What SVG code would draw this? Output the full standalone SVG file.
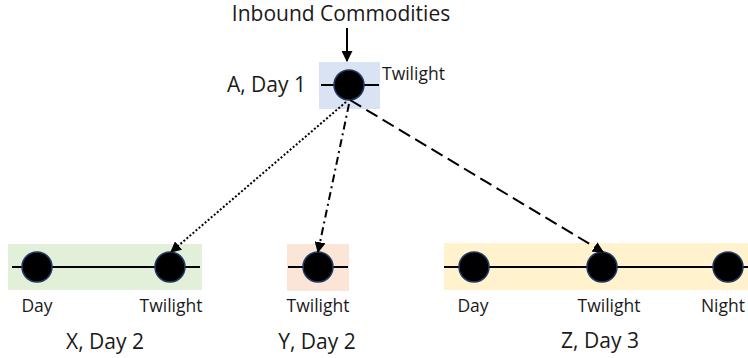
<svg xmlns="http://www.w3.org/2000/svg" width="748" height="358" viewBox="0 0 748 358">
<style>
text{font-family:"Open Sans","Noto Sans",sans-serif;fill:#1a1a1a}
.lbl{font-size:17.5px}
.big{font-size:21px}
.node{fill:#000;stroke:#1f3864;stroke-width:1.5}
.track{stroke:#000;stroke-width:2}
.conn{fill:none;stroke:#000;stroke-width:2}
</style>
<defs>
<marker id="ah" viewBox="0 0 10 10" refX="9" refY="5" markerWidth="5.5" markerHeight="5.5" orient="auto" markerUnits="strokeWidth">
<path d="M0,0 L10,5 L0,10 z" fill="#000"/>
</marker>
</defs>
<rect width="748" height="358" fill="#fff"/>
<g id="nodeA">
<rect x="319" y="62" width="61" height="47" fill="#dae3f3"/>
<line class="track" x1="321" y1="85" x2="379" y2="85"/>
<circle class="node" cx="349" cy="85" r="15"/>
<text class="lbl" x="382" y="80">Twilight</text>
<text class="big" x="306" y="92" text-anchor="end">A, Day 1</text>
</g>
<g id="inbound">
<text class="big" x="341" y="21" text-anchor="middle">Inbound Commodities</text>
</g>
<g id="nodeX">
<rect x="8" y="244" width="194" height="46" fill="#e2f0d9"/>
<line class="track" x1="12" y1="267" x2="200" y2="267"/>
<circle class="node" cx="37" cy="267" r="15"/>
<circle class="node" cx="170" cy="267" r="15"/>
<text class="lbl" x="37" y="312" text-anchor="middle">Day</text>
<text class="lbl" x="171" y="312" text-anchor="middle">Twilight</text>
<text class="big" x="105" y="349" text-anchor="middle">X, Day 2</text>
</g>
<g id="nodeY">
<rect x="287" y="244" width="62" height="47" fill="#fbe5d6"/>
<line class="track" x1="288" y1="267" x2="348" y2="267"/>
<circle class="node" cx="318" cy="267" r="15"/>
<text class="lbl" x="318" y="312" text-anchor="middle">Twilight</text>
<text class="big" x="317" y="349" text-anchor="middle">Y, Day 2</text>
</g>
<g id="nodeZ">
<rect x="444" y="243" width="304" height="47" fill="#fff2cc"/>
<line class="track" x1="444" y1="267" x2="748" y2="267"/>
<circle class="node" cx="474" cy="267" r="15"/>
<circle class="node" cx="602" cy="267" r="15"/>
<circle class="node" cx="728" cy="267" r="15"/>
<text class="lbl" x="473" y="312" text-anchor="middle">Day</text>
<text class="lbl" x="609" y="312" text-anchor="middle">Twilight</text>
<text class="lbl" x="745" y="312" text-anchor="end">Night</text>
<text class="big" x="600" y="348" text-anchor="middle">Z, Day 3</text>
</g>
<g id="connectors">
<line class="conn" x1="347" y1="28" x2="347" y2="61" marker-end="url(#ah)"/>
<line class="conn" x1="346" y1="102" x2="171" y2="252" stroke-dasharray="2 2" marker-end="url(#ah)"/>
<line class="conn" x1="349" y1="104" x2="318" y2="252" stroke-dasharray="8 4 2 4" marker-end="url(#ah)"/>
<line class="conn" x1="350" y1="100" x2="603" y2="252" stroke-dasharray="13 6" marker-end="url(#ah)"/>
</g>
</svg>
